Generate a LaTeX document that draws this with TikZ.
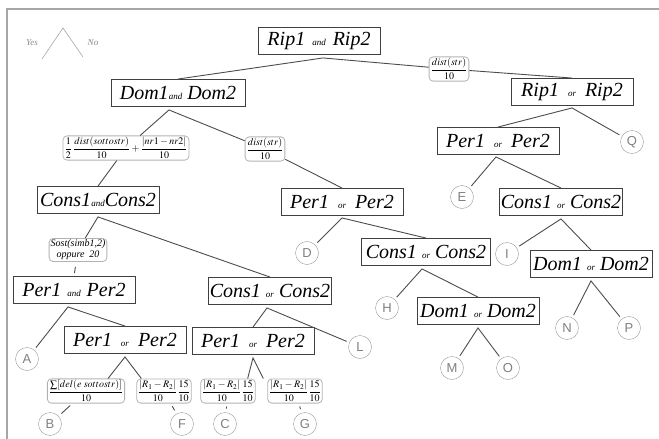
\documentclass[tikz,border=0pt]{standalone}
\usepackage{mathptmx}
\usepackage{fontspec}
\setmainfont{Liberation Serif}
\setsansfont{Liberation Sans}
\newcommand{\conn}[1]{{\fontsize{9}{9}\selectfont\itshape #1}}
\newcommand{\boxfont}{\fontsize{20}{20}\selectfont\itshape}
\begin{document}
\begin{tikzpicture}[x=1pt,y=-1pt,
    box/.style={draw=black!75,line width=0.9pt,minimum width=122pt,minimum height=27pt,inner sep=1pt,font=\boxfont},
    lab/.style={draw=black!30,rounded corners=4pt,line width=0.8pt,inner sep=1.5pt,font=\fontsize{10}{11}\selectfont},
    leaf/.style={circle,draw=black!40,minimum size=23pt,inner sep=0pt,outer sep=3pt,text=black!50,font=\sffamily\fontsize{13}{13}\selectfont},
    edge/.style={draw=black!70,line width=0.9pt},
    tick/.style={edge,shorten <=3pt,shorten >=1pt}]

            \useasboundingbox (0,0) rectangle (659,439);
            \draw[black!35,line width=2pt] (7,439) -- (7,9) -- (659,9);

            % legend
            \draw[black!35,line width=0.6pt] (42,59) -- (63,28) -- (83,57);
            \node[text=black!45,font=\itshape\fontsize{9}{9}\selectfont] (yes) at (32,43) {Yes};
            \node[text=black!45,font=\itshape\fontsize{9}{9}\selectfont] (no) at (93,43) {No};

            % boxes
            \node[box] (root) at (319,41) {Rip1\hspace{7pt}\conn{and}\hspace{7pt}Rip2};
            \node[box,minimum width=134pt] (dom) at (178,93) {Dom1\conn{and} Dom2};
            \node[box] (ripor) at (572,92) {Rip1\hspace{9pt}\conn{or}\hspace{9pt}Rip2};
            \node[box] (per) at (342,202) {Per1\hspace{9pt}\conn{or}\hspace{9pt}Per2};
            \node[box] (cons) at (98,200) {Cons1\conn{and}Cons2};
            \node[box] (consor) at (270,291) {Cons1 \conn{or} Cons2};
            \node[box] (perand) at (74,290) {Per1\hspace{6pt}\conn{and}\hspace{6pt}Per2};
            \node[box] (perorA) at (125,340) {Per1\hspace{9pt}\conn{or}\hspace{9pt}Per2};
            \node[box] (perorB) at (253,341) {Per1\hspace{9pt}\conn{or}\hspace{9pt}Per2};
            \node[box,minimum width=129pt] (consorC) at (426,252) {Cons1 \conn{or} Cons2};
            \node[box] (domorC) at (478,311) {Dom1 \conn{or} Dom2};
            \node[box] (perR) at (498,141) {Per1\hspace{9pt}\conn{or}\hspace{9pt}Per2};
            \node[box] (consR) at (561,202) {Cons1 \conn{or} Cons2};
            \node[box] (domR) at (591,264) {Dom1 \conn{or} Dom2};

            % edge labels
            \node[lab] (ldist1) at (449,69) {$\displaystyle\frac{dist(str)}{10}$};
            \node[lab] (lhalf) at (126,148) {$\displaystyle\frac{1}{2}\,\frac{dist(sottostr)}{10}+\frac{|nr1-nr2|}{10}$};
            \node[lab] (ldist2) at (265,149) {$\displaystyle\frac{dist(str)}{10}$};
            \node[lab,align=center,font=\itshape\fontsize{10}{11}\selectfont] (lsost) at (78,250) {Sost(simb1,2)\\oppure\ \ 20};
            \node[lab] (lsum) at (86,391) {$\displaystyle\frac{\textstyle\sum[del(e\;sottostr)]}{10}$};
            \node[lab] (lrF) at (164,391) {$\displaystyle\frac{|R_1-R_2|}{10}\frac{15}{10}$};
            \node[lab] (lrC) at (228,391) {$\displaystyle\frac{|R_1-R_2|}{10}\frac{15}{10}$};
            \node[lab] (lrG) at (295,391) {$\displaystyle\frac{|R_1-R_2|}{10}\frac{15}{10}$};

            % leaves
            \node[leaf] (A) at (27,359) {A};
            \node[leaf] (B) at (50,424) {B};
            \node[leaf] (F) at (182,424) {F};
            \node[leaf] (C) at (225,424) {C};
            \node[leaf] (G) at (305,424) {G};
            \node[leaf] (L) at (360,347) {L};
            \node[leaf] (D) at (307,253) {D};
            \node[leaf] (H) at (387,308) {H};
            \node[leaf] (M) at (452,368) {M};
            \node[leaf] (O) at (508,368) {O};
            \node[leaf] (E) at (462,197) {E};
            \node[leaf] (Q) at (632,142) {Q};
            \node[leaf] (I) at (507,254) {I};
            \node[leaf] (N) at (567,328) {N};
            \node[leaf] (P) at (629,328) {P};

            % branches
            \draw[edge] (dom.north) -- ([xshift=4pt,yshift=-3pt]root.south) -- (ldist1);
            \draw[edge] (ldist1) -- (ripor.north);
            \draw[edge] (lhalf) -- ([xshift=-9pt,yshift=-3pt]dom.south) -- (ldist2);
            \draw[edge] (lhalf) -- (cons.north);
            \draw[edge] (ldist2) -- (per.north);
            \draw[edge] (D) -- ([yshift=-2pt]per.south) -- (consorC.north);
            \draw[edge] (H) -- ([xshift=-4pt,yshift=-3pt]consorC.south) -- (domorC.north);
            \draw[edge] (M) -- ([yshift=-3pt]domorC.south) -- (O);
            \draw[edge] (perR.north) -- ([yshift=-2pt]ripor.south) -- (Q);
            \draw[edge] (E) -- ([xshift=-2pt,yshift=-2pt]perR.south) -- (consR.north);
            \draw[edge] (I) -- ([yshift=-3pt]consR.south) -- (domR.north);
            \draw[edge] (N) -- ([yshift=-3pt]domR.south) -- (P);
            \draw[edge] (lsost) -- ([yshift=-3pt]cons.south) -- (consor.north);
            \draw[tick,shorten <=5pt,shorten >=3pt] (lsost) -- (perand.north);
            \draw[edge] (A) -- ([xshift=-6pt,yshift=-3pt]perand.south) -- (perorA.north);
            \draw[edge] ([xshift=-17pt]lsum.north east) -- ([yshift=-3pt]perorA.south) -- ([xshift=5pt]lrF.north west);
            \draw[tick] (lsum) -- (B);
            \draw[tick] (lrF) -- (F);
            \draw[edge] (perorB.north) -- ([xshift=-3pt,yshift=-3pt]consor.south) -- (L);
            \draw[edge] ([xshift=-8pt]lrC.north east) -- ([yshift=-3pt]perorB.south) -- ([xshift=-4pt]lrG.north west);
            \draw[tick] (lrC) -- (C);
            \draw[tick] (lrG) -- (G);

        \end{tikzpicture}
\end{document}
